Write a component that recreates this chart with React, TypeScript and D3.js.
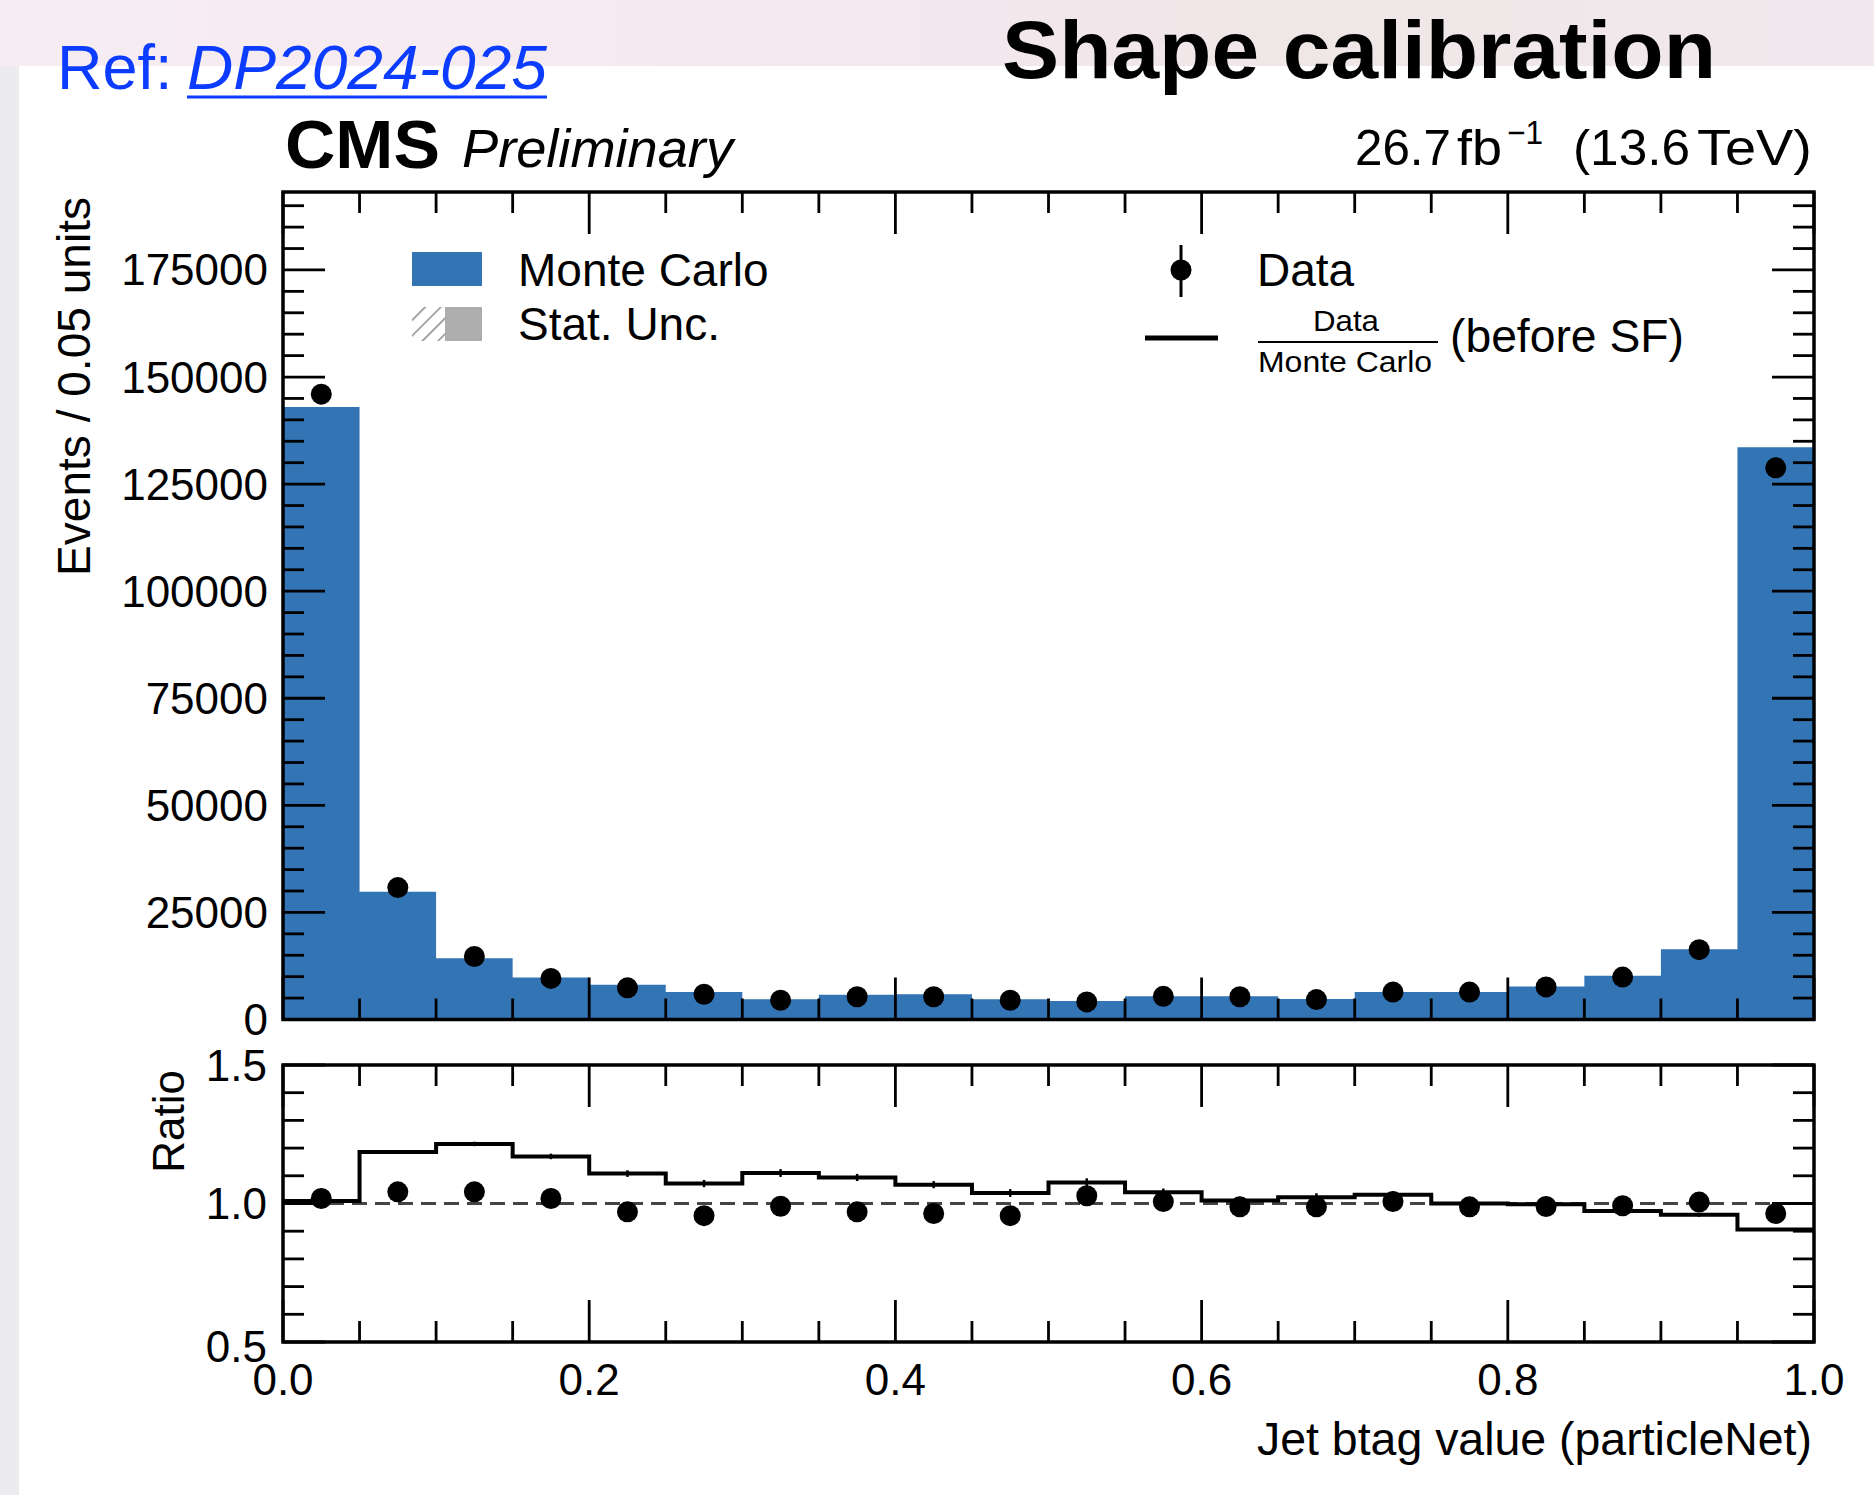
import React from "react";
import * as d3 from "d3";

// ---------------- data ----------------
const binLow = [0.0, 0.05, 0.1, 0.15, 0.2, 0.25, 0.3, 0.35, 0.4, 0.45, 0.5, 0.55, 0.6, 0.65, 0.7, 0.75, 0.8, 0.85, 0.9, 0.95];
const binHigh = [0.05, 0.1, 0.15, 0.2, 0.25, 0.3, 0.35, 0.4, 0.45, 0.5, 0.55, 0.6, 0.65, 0.7, 0.75, 0.8, 0.85, 0.9, 0.95, 1.0];
const mcCounts = [143000, 29800, 14300, 9800, 8100, 6400, 4700, 5800, 5900, 4700, 4300, 5400, 5400, 4800, 6400, 6400, 7700, 10200, 16400, 133600];
const dataCounts = [146000, 30800, 14700, 9600, 7400, 5900, 4500, 5300, 5300, 4500, 4100, 5400, 5300, 4650, 6400, 6400, 7600, 9900, 16300, 128800];
const ratioAfterSF = [1.018, 1.042, 1.042, 1.018, 0.97, 0.956, 0.99, 0.97, 0.964, 0.956, 1.028, 1.007, 0.988, 0.988, 1.007, 0.988, 0.989, 0.992, 1.005, 0.964];
const ratioBeforeSF = [1.009, 1.186, 1.215, 1.17, 1.108, 1.072, 1.11, 1.094, 1.068, 1.038, 1.076, 1.041, 1.011, 1.023, 1.032, 1.0, 0.997, 0.973, 0.959, 0.906];
const ratioBeforeErr = [0.003, 0.006, 0.008, 0.01, 0.012, 0.013, 0.014, 0.013, 0.013, 0.014, 0.015, 0.013, 0.013, 0.014, 0.012, 0.012, 0.011, 0.01, 0.007, 0.003];

const xMajorTicks = [0.0, 0.2, 0.4, 0.6, 0.8, 1.0];
const yMainTicks = [0, 25000, 50000, 75000, 100000, 125000, 150000, 175000];
const yRatioTicks = [0.5, 1.0, 1.5];

const FONT = "'Liberation Sans', Arial, Helvetica, sans-serif";
const BLUE = "#3374b5";

export default function App() {
  const W = 1874;
  const H = 1495;
  const x = d3.scaleLinear().domain([0, 1]).range([283, 1814]);
  const yM = d3.scaleLinear().domain([0, 193200]).range([1019.5, 192]);
  const yR = d3.scaleLinear().domain([0.5, 1.5]).range([1342, 1065]);

  const [x0, x1] = x.range();
  const mTop = yM.range()[1];
  const mBot = yM.range()[0];
  const rTop = yR.range()[1];
  const rBot = yR.range()[0];

  const MAJ = 42;
  const MIN = 21;
  const TW = 2.8;

  const mcPts = binLow.map((b, i) => ({ x: b, y: mcCounts[i] }));
  mcPts.push({ x: binHigh[binHigh.length - 1], y: mcCounts[mcCounts.length - 1] });
  const area = d3
    .area<{ x: number; y: number }>()
    .x((d) => x(d.x))
    .y0(yM(0))
    .y1((d) => yM(d.y))
    .curve(d3.curveStepAfter);

  const rbPts = binLow.map((b, i) => ({ x: b, y: ratioBeforeSF[i] }));
  rbPts.push({ x: binHigh[binHigh.length - 1], y: ratioBeforeSF[ratioBeforeSF.length - 1] });
  const stepLine = d3
    .line<{ x: number; y: number }>()
    .x((d) => x(d.x))
    .y((d) => yR(d.y))
    .curve(d3.curveStepAfter);

  const xMinor = [...binLow, 1.0].filter((v) => !xMajorTicks.some((m) => Math.abs(m - v) < 1e-6));
  const yMainMinor = d3.range(5000, 193000, 5000).filter((v) => v % 25000 !== 0);
  const yRatioMinor = d3.range(0.6, 1.45, 0.1).filter((v) => Math.abs(v - 1.0) > 1e-6);

  const fmtX = d3.format(".1f");
  const fmtY = d3.format("d");

  const tick = (key: string, xa: number, ya: number, xb: number, yb: number) => (
    <line key={key} x1={xa} y1={ya} x2={xb} y2={yb} stroke="#000" strokeWidth={TW} />
  );

  return (
    <svg
      width={W}
      height={H}
      viewBox={`0 0 ${W} ${H}`}
      style={{ position: "absolute", left: 0, top: 0, display: "block" }}
      fontFamily={FONT}
    >
      <defs>
        <linearGradient id="bgGrad" x1="0" y1="0" x2="1" y2="0">
          <stop offset="0" stopColor="#f6edf3" />
          <stop offset="0.5" stopColor="#f3e8ee" />
          <stop offset="0.7" stopColor="#efe6e6" />
          <stop offset="1" stopColor="#f2e9ef" />
        </linearGradient>
        <pattern id="hatch" patternUnits="userSpaceOnUse" width="11" height="11" patternTransform="rotate(45)">
          <line x1="0" y1="0" x2="0" y2="11" stroke="#8a8a8a" strokeWidth="3" />
        </pattern>
        <clipPath id="mainClip">
          <rect x={x0} y={mTop} width={x1 - x0} height={mBot - mTop} />
        </clipPath>
      </defs>

      {/* background slide */}
      <rect x={0} y={0} width={W} height={H} fill="url(#bgGrad)" />
      <rect x={0} y={66} width={19} height={H - 66} fill="#ecebf0" />
      <rect x={19} y={66} width={W - 19} height={H - 66} fill="#ffffff" />

      {/* slide header texts */}
      <text x={57} y={89} fontSize={63} fill="#0b3cff">
        Ref:{" "}
      </text>
      <text x={187} y={89} fontSize={63} fontStyle="italic" fill="#0b3cff" textLength={360} lengthAdjust="spacingAndGlyphs">
        DP2024-025
      </text>
      <line x1={187} y1={97} x2={547} y2={97} stroke="#0b3cff" strokeWidth={3} />
      <text x={1002} y={78} fontSize={81} fontWeight={700} fill="#000" textLength={714} lengthAdjust="spacingAndGlyphs">
        Shape calibration
      </text>

      {/* CMS label */}
      <text x={285} y={168} fontSize={68} fontWeight={700} textLength={155} lengthAdjust="spacingAndGlyphs">
        CMS
      </text>
      <text x={462} y={167} fontSize={54} fontStyle="italic" textLength={271} lengthAdjust="spacingAndGlyphs">
        Preliminary
      </text>
      {/* lumi label */}
      <text x={1355} y={165} fontSize={50} textLength={96} lengthAdjust="spacingAndGlyphs">26.7</text>
      <text x={1457} y={165} fontSize={50} textLength={45} lengthAdjust="spacingAndGlyphs">fb</text>
      <text x={1507} y={144} fontSize={33} textLength={36} lengthAdjust="spacingAndGlyphs">−1</text>
      <text x={1573} y={165} fontSize={50} textLength={117} lengthAdjust="spacingAndGlyphs">(13.6</text>
      <text x={1697} y={165} fontSize={50} textLength={115} lengthAdjust="spacingAndGlyphs">TeV)</text>

      {/* ---------- main panel ---------- */}
      <path d={area(mcPts) || ""} fill={BLUE} clipPath="url(#mainClip)" />
      {dataCounts.map((v, i) => (
        <g key={`d${i}`}>
          <line
            x1={x((binLow[i] + binHigh[i]) / 2)}
            x2={x((binLow[i] + binHigh[i]) / 2)}
            y1={yM(v + Math.sqrt(v))}
            y2={yM(v - Math.sqrt(v))}
            stroke="#000"
            strokeWidth={3}
          />
          <circle cx={x((binLow[i] + binHigh[i]) / 2)} cy={yM(v)} r={10.5} fill="#000" />
        </g>
      ))}

      {/* main ticks */}
      {xMajorTicks.map((t) => (
        <g key={`mxM${t}`}>
          {tick(`a${t}`, x(t), mTop, x(t), mTop + MAJ)}
          {tick(`b${t}`, x(t), mBot, x(t), mBot - MAJ)}
        </g>
      ))}
      {xMinor.map((t) => (
        <g key={`mxm${t}`}>
          {tick(`a${t}`, x(t), mTop, x(t), mTop + MIN)}
          {tick(`b${t}`, x(t), mBot, x(t), mBot - MIN)}
        </g>
      ))}
      {yMainTicks.map((t) => (
        <g key={`myM${t}`}>
          {tick(`a${t}`, x0, yM(t), x0 + MAJ, yM(t))}
          {tick(`b${t}`, x1, yM(t), x1 - MAJ, yM(t))}
          <text x={268} y={yM(t) + 15.5} fontSize={44} textAnchor="end">
            {fmtY(t)}
          </text>
        </g>
      ))}
      {yMainMinor.map((t) => (
        <g key={`mym${t}`}>
          {tick(`a${t}`, x0, yM(t), x0 + MIN, yM(t))}
          {tick(`b${t}`, x1, yM(t), x1 - MIN, yM(t))}
        </g>
      ))}
      <rect x={x0} y={mTop} width={x1 - x0} height={mBot - mTop} fill="none" stroke="#000" strokeWidth={3.5} />

      {/* y label main */}
      <text
        transform={`translate(90,197) rotate(-90)`}
        fontSize={46}
        textAnchor="end"
        textLength={379}
        lengthAdjust="spacingAndGlyphs"
      >
        Events / 0.05 units
      </text>

      {/* legend */}
      <rect x={412} y={252} width={70} height={34} fill={BLUE} />
      <rect x={412} y={307} width={33} height={34} fill="url(#hatch)" />
      <rect x={445} y={307} width={37} height={34} fill="#adadad" />
      <text x={518} y={286} fontSize={46}>Monte Carlo</text>
      <text x={518} y={340} fontSize={46}>Stat. Unc.</text>

      <line x1={1181} x2={1181} y1={245} y2={297} stroke="#000" strokeWidth={3} />
      <circle cx={1181} cy={270} r={10.5} fill="#000" />
      <text x={1257} y={286} fontSize={46}>Data</text>

      <line x1={1145} x2={1218} y1={338} y2={338} stroke="#000" strokeWidth={5} />
      <text x={1346} y={331} fontSize={30} textAnchor="middle" textLength={66} lengthAdjust="spacingAndGlyphs">Data</text>
      <line x1={1258} x2={1438} y1={342} y2={342} stroke="#000" strokeWidth={2} />
      <text x={1345} y={372} fontSize={30} textAnchor="middle" textLength={174} lengthAdjust="spacingAndGlyphs">Monte Carlo</text>
      <text x={1450} y={352} fontSize={46} textLength={234} lengthAdjust="spacingAndGlyphs">(before SF)</text>

      {/* ---------- ratio panel ---------- */}
      <line x1={x0} x2={x1} y1={yR(1)} y2={yR(1)} stroke="#444" strokeWidth={3} strokeDasharray="15 8" />
      <path d={stepLine(rbPts) || ""} fill="none" stroke="#000" strokeWidth={4} />
      {ratioBeforeSF.map((v, i) => (
        <line
          key={`rbe${i}`}
          x1={x((binLow[i] + binHigh[i]) / 2)}
          x2={x((binLow[i] + binHigh[i]) / 2)}
          y1={yR(v + ratioBeforeErr[i])}
          y2={yR(v - ratioBeforeErr[i])}
          stroke="#000"
          strokeWidth={2.5}
        />
      ))}
      {ratioAfterSF.map((v, i) => (
        <circle key={`ra${i}`} cx={x((binLow[i] + binHigh[i]) / 2)} cy={yR(v)} r={10.5} fill="#000" />
      ))}

      {xMajorTicks.map((t) => (
        <g key={`rxM${t}`}>
          {tick(`a${t}`, x(t), rTop, x(t), rTop + MAJ)}
          {tick(`b${t}`, x(t), rBot, x(t), rBot - MAJ)}
          <text x={x(t)} y={1395} fontSize={44} textAnchor="middle">
            {fmtX(t)}
          </text>
        </g>
      ))}
      {xMinor.map((t) => (
        <g key={`rxm${t}`}>
          {tick(`a${t}`, x(t), rTop, x(t), rTop + MIN)}
          {tick(`b${t}`, x(t), rBot, x(t), rBot - MIN)}
        </g>
      ))}
      {yRatioTicks.map((t) => (
        <g key={`ryM${t}`}>
          {tick(`a${t}`, x0, yR(t), x0 + MAJ, yR(t))}
          {tick(`b${t}`, x1, yR(t), x1 - MAJ, yR(t))}
          <text x={267} y={yR(t) + 15.5 + (t === 0.5 ? 4 : 0)} fontSize={44} textAnchor="end">
            {fmtX(t)}
          </text>
        </g>
      ))}
      {yRatioMinor.map((t) => (
        <g key={`rym${t}`}>
          {tick(`a${t}`, x0, yR(t), x0 + MIN, yR(t))}
          {tick(`b${t}`, x1, yR(t), x1 - MIN, yR(t))}
        </g>
      ))}
      <rect x={x0} y={rTop} width={x1 - x0} height={rBot - rTop} fill="none" stroke="#000" strokeWidth={3.5} />

      <text transform={`translate(184,1070) rotate(-90)`} fontSize={44} textAnchor="end">
        Ratio
      </text>
      <text x={1812} y={1455} fontSize={46} textAnchor="end" textLength={555} lengthAdjust="spacingAndGlyphs">
        Jet btag value (particleNet)
      </text>
    </svg>
  );
}
